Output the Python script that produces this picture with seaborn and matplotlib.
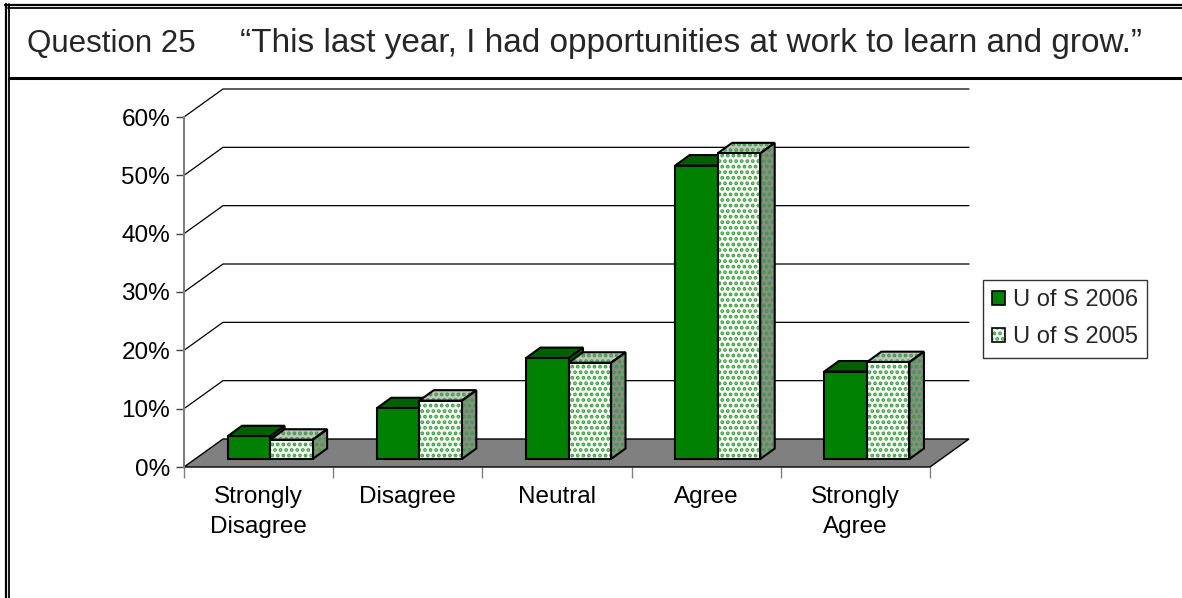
import matplotlib
matplotlib.use("Agg")
import matplotlib.pyplot as plt
from matplotlib.patches import Polygon, Rectangle, Patch
from matplotlib.lines import Line2D
from matplotlib.legend_handler import HandlerTuple
import seaborn as sns
import pandas as pd

# Survey responses (percent of respondents)
categories = ["Strongly\nDisagree", "Disagree", "Neutral", "Agree", "Strongly\nAgree"]
share_2006 = [3.9, 8.7, 17.3, 50.3, 15.0]
share_2005 = [3.3, 10.0, 16.5, 52.4, 16.6]
series = ["U of S 2006", "U of S 2005"]
y_ticks = [0, 10, 20, 30, 40, 50, 60]
y_tick_labels = ["0%", "10%", "20%", "30%", "40%", "50%", "60%"]

GREEN = "#008000"
GREEN_TOP = "#006000"
DOT = "#3aa03a"
FLOOR = "#808080"
SIDE_GRAY = "#8c8c8c"
TOP_GRAY = "#c4c4c4"

sns.set_theme(style="white")
plt.rcParams["font.family"] = ["Liberation Sans", "DejaVu Sans"]
plt.rcParams["hatch.linewidth"] = 1.9

W, H = 1182, 598
fig = plt.figure(figsize=(W / 100, H / 100), dpi=100)
fig.patch.set_facecolor("white")

# front plane of the plot area in pixels
x0_px, x1_px = 184, 930
y0_px, y1_px = 467, 117
left, width = x0_px / W, (x1_px - x0_px) / W
bottom, height = (H - y0_px) / H, (y0_px - y1_px) / H

ax = fig.add_axes([left, bottom, width, height])
ax.set_xlim(-0.5, 4.5)
ax.set_ylim(0, 60)
ax.patch.set_alpha(0)

px_x = 5.0 / (x1_px - x0_px)      # data units per pixel (x)
px_y = 60.0 / (y0_px - y1_px)      # data units per pixel (y)

# depth of the back wall
DX, DY = 39 * px_x, 28 * px_y

# floor
ax.add_patch(Polygon([(-0.5, 0), (4.5, 0), (4.5 + DX, DY), (-0.5 + DX, DY)],
                     closed=True, facecolor=FLOOR, edgecolor="black", lw=1.0,
                     clip_on=False, zorder=1))
# back wall gridlines
for v in y_ticks[1:]:
    ax.plot([-0.5, -0.5 + DX, 4.5 + DX], [v, v + DY, v + DY], color="black",
            lw=0.9, clip_on=False, zorder=0.5)

ax.set_yticks(y_ticks)
ax.set_yticklabels(y_tick_labels)
ax.set_xticks(range(5))
ax.set_xticklabels(categories, linespacing=1.45)
ax.set_xticks([-0.5 + i for i in range(6)], minor=True)
ax.tick_params(axis="y", which="major", direction="out", length=6, width=1,
               color="#404040", labelsize=17.5, pad=4, labelcolor="black", left=True)
ax.tick_params(axis="x", which="major", length=0, labelsize=17.5, pad=14,
               labelcolor="black", bottom=True)
ax.tick_params(axis="x", which="minor", direction="out", length=8, width=1,
               color="#808080", bottom=True)
for s in ["top", "right", "bottom"]:
    ax.spines[s].set_visible(False)
ax.spines["left"].set_color("#808080")
ax.spines["left"].set_linewidth(1.5)
ax.set_xlabel("")
ax.set_ylabel("")

# bars sit a little behind the front plane
shift_x, shift_y = 11.5, 8.0
axb = fig.add_axes([left + shift_x / W, bottom + shift_y / H, width, height])
axb.set_xlim(-0.5, 4.5)
axb.set_ylim(0, 60)
axb.axis("off")
axb.patch.set_alpha(0)

df = pd.DataFrame({
    "Response": categories * 2,
    "Share": share_2006 + share_2005,
    "Year": [series[0]] * 5 + [series[1]] * 5,
})
sns.barplot(data=df, x="Response", y="Share", hue="Year", hue_order=series,
            palette={series[0]: GREEN, series[1]: "white"}, saturation=1,
            width=0.57, edgecolor="black", linewidth=1.5, legend=False, ax=axb)
axb.set_xlim(-0.5, 4.5)
axb.set_ylim(0, 60)

bdx, bdy = 14.5 * px_x, 10.5 * px_y

def faces(x, w, h):
    side = [(x + w, 0), (x + w + bdx, bdy), (x + w + bdx, h + bdy), (x + w, h)]
    top = [(x, h), (x + bdx, h + bdy), (x + w + bdx, h + bdy), (x + w, h)]
    return side, top

for bar in axb.containers[0]:
    x, w, h = bar.get_x(), bar.get_width(), bar.get_height()
    side, top = faces(x, w, h)
    axb.add_patch(Polygon(side, closed=True, facecolor=GREEN_TOP, edgecolor="black",
                          lw=1.5, zorder=2.0, clip_on=False))
    axb.add_patch(Polygon(top, closed=True, facecolor=GREEN_TOP, edgecolor="black",
                          lw=1.5, zorder=2.0, clip_on=False))
    bar.set_zorder(2.1)
    bar.set_clip_on(False)

for bar in axb.containers[1]:
    x, w, h = bar.get_x(), bar.get_width(), bar.get_height()
    side, top = faces(x, w, h)
    for pts, fc in ((side, SIDE_GRAY), (top, TOP_GRAY)):
        axb.add_patch(Polygon(pts, closed=True, facecolor=fc, edgecolor=DOT,
                              hatch="...", lw=0, zorder=2.2, clip_on=False))
        axb.add_patch(Polygon(pts, closed=True, fill=False, edgecolor="black",
                              lw=1.5, zorder=2.25, clip_on=False))
    bar.set_edgecolor(DOT)
    bar.set_hatch("...")
    bar.set_linewidth(0)
    bar.set_zorder(2.3)
    bar.set_clip_on(False)
    axb.add_patch(Rectangle((x, 0), w, h, fill=False, edgecolor="black", lw=1.5,
                            zorder=2.4, clip_on=False))

# legend
h2006 = Patch(facecolor=GREEN, edgecolor="black", lw=1.2)
h2005 = (Patch(facecolor="white", edgecolor=DOT, hatch="...", lw=0),
         Patch(fill=False, edgecolor="black", lw=1.2))
leg = fig.legend([h2006, h2005], series, handler_map={tuple: HandlerTuple(ndivide=1)},
                 loc="upper left", bbox_to_anchor=(983 / W, 1 - 280 / H),
                 frameon=True, fancybox=False, shadow=False, fontsize=17,
                 handlelength=0.55, handleheight=0.55, handletextpad=0.3,
                 borderpad=0.4, labelspacing=0.62, borderaxespad=0)
leg.get_frame().set_edgecolor("black")
leg.get_frame().set_linewidth(1.0)

# title row
fig.text(27 / W, 1 - 52 / H, "Question 25", fontsize=22.5, va="baseline", ha="left")
fig.text(240 / W, 1 - 52 / H,
         "\u201cThis last year, I had opportunities at work to learn and grow.\u201d",
         fontsize=24, va="baseline", ha="left")

# page frame
def hline(y, x_start, lw):
    fig.add_artist(Line2D([x_start / W, 1], [1 - y / H, 1 - y / H], color="black",
                          lw=lw, transform=fig.transFigure))

def vline(x, lw):
    fig.add_artist(Line2D([x / W, x / W], [0, 1 - 4 / H], color="black", lw=lw,
                          transform=fig.transFigure))

hline(4.8, 5, 1.6)
hline(8.0, 8, 1.3)
vline(6.0, 1.6)
vline(9.3, 1.3)
hline(78, 9, 2.2)

fig.savefig("out.png", dpi=100)
